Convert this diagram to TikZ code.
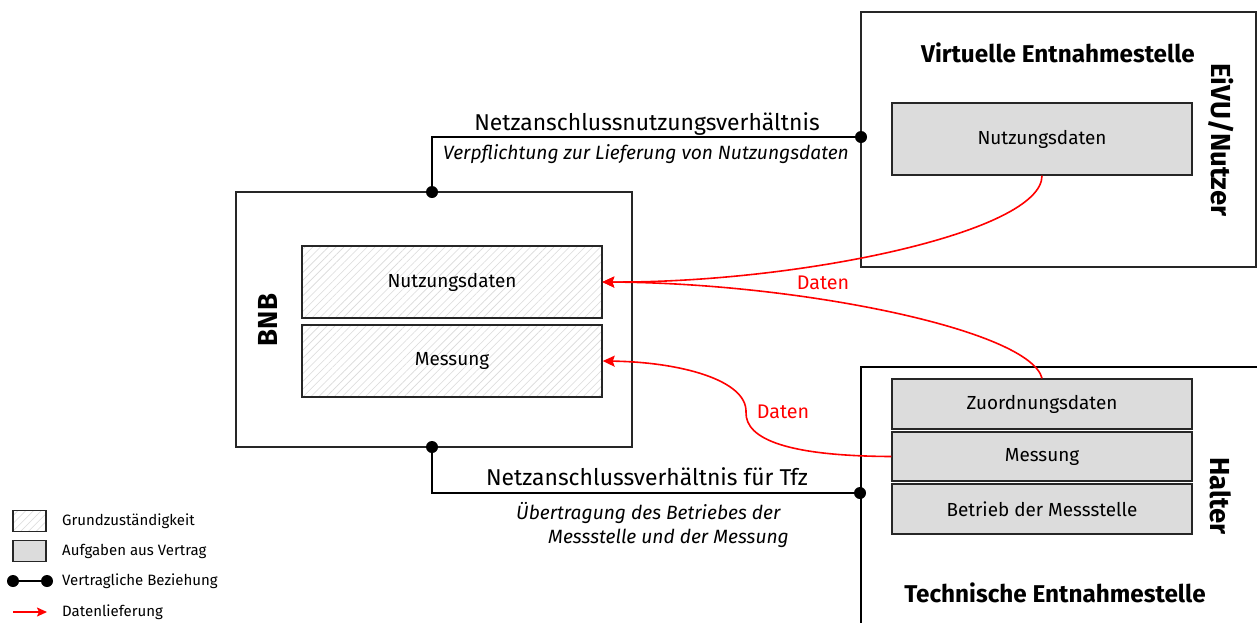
\documentclass[tikz,border=0pt]{standalone}
\usepackage{fontspec}
\setmainfont{Fira Sans}
\usetikzlibrary{arrows.meta,patterns.meta}
\definecolor{taskgray}{HTML}{DCDCDC}
\definecolor{hatchgray}{HTML}{DADADA}
\definecolor{framegray}{HTML}{262626}
\definecolor{datared}{HTML}{FF0000}
\begin{document}
\begin{tikzpicture}[x=1pt,y=-1pt,
  party/.style={draw=framegray, line width=1.3pt, fill=white, inner sep=0pt},
  hatchfill/.style={preaction={fill=white},
    pattern={Lines[angle=45,distance=5.5pt,line width=0.6pt]}, pattern color=hatchgray},
  hatchbox/.style={draw=framegray, line width=1.4pt, hatchfill,
    inner sep=0pt, font=\fontsize{18.9}{22}\selectfont},
  taskbox/.style={draw=framegray, line width=1.4pt, fill=taskgray, inner sep=0pt,
    font=\fontsize{18.9}{22}\selectfont},
  title/.style={font=\fontsize{24.3}{28}\bfseries\selectfont, inner sep=0pt},
  sidetitle/.style={font=\fontsize{27.5}{30}\bfseries\selectfont, inner sep=0pt},
  relname/.style={font=\fontsize{22.9}{26}\selectfont, inner sep=0pt},
  relnote/.style={font=\fontsize{19.2}{24}\itshape\selectfont, inner sep=0pt},
  contract/.style={draw=black, line width=1.4pt},
  contractdot/.style={fill=black},
  datalink/.style={draw=datared, line width=1.6pt, -{Stealth[length=12pt,width=11pt,inset=2pt]}},
  datalabel/.style={text=datared, font=\fontsize{19.7}{22}\selectfont, inner sep=0pt},
  legendtext/.style={font=\fontsize{15}{17}\selectfont, anchor=west, inner sep=0pt},
]
\useasboundingbox (0,0) rectangle (1257,622);
\clip (0,0) rectangle (1257,622);

% BNB
\node[party, minimum width=396pt, minimum height=255pt] (bnb) at (434,319.5) {};
\node[sidetitle, rotate=90] (bnblabel) at (268,320) {BNB};
\node[hatchbox, minimum width=300pt, minimum height=72pt] (bnbnutz) at (452,282) {Nutzungsdaten};
\node[hatchbox, minimum width=300pt, minimum height=72pt] (bnbmess) at (452,361) {Messung};

% Virtuelle Entnahmestelle
\node[party, minimum width=395pt, minimum height=255pt] (virt) at (1058.5,139.5) {};
\node[title] (virttitle) at (1058,53) {Virtuelle Entnahmestelle};
\node[sidetitle, rotate=-90] (eivu) at (1221,140) {EiVU/Nutzer};
\node[taskbox, minimum width=300pt, minimum height=72pt] (vnutz) at (1042,139) {Nutzungsdaten};

% Technische Entnahmestelle
\node[party, draw=black, line width=2pt, minimum width=420pt, minimum height=320pt, anchor=north west] (tech) at (860,366) {};
\node[taskbox, minimum width=300pt, minimum height=50pt] (zuord) at (1042,404) {Zuordnungsdaten};
\node[taskbox, minimum width=300pt, minimum height=49pt] (tmess) at (1042,456.5) {Messung};
\node[taskbox, minimum width=300pt, minimum height=50pt] (betrieb) at (1042,509) {Betrieb der Messstelle};
\node[sidetitle, rotate=-90] (halter) at (1221,496) {Halter};
\node[title] (techtitle) at (1055,593) {Technische Entnahmestelle};

% contractual relations
\coordinate (bnbtop) at (432,192);
\coordinate (virtport) at (861,137);
\coordinate (bnbbot) at (432,447);
\coordinate (techport) at (860,493);
\draw[contract] (bnbtop) |- (virtport);
\draw[contract] (bnbbot) |- (techport);
\foreach \p in {bnbtop,virtport,bnbbot,techport} \fill[contractdot] (\p) circle (6pt);

\node[relname] (nnv) at (647,124) {Netzanschlussnutzungsverhältnis};
\node[relnote] (nnvnote) at (646,154) {Verpflichtung zur Lieferung von Nutzungsdaten};
\node[relname] (nav) at (647,477) {Netzanschlussverhältnis für Tfz};
\node[relnote, anchor=north west, align=left] (navnote) at (516,502)
  {Übertragung des Betriebes der\\\hspace*{32pt}Messstelle und der Messung};

% data deliveries
\draw[datalink] (vnutz.south) .. controls (1042,232) and (800,283) .. (bnbnutz.east);
\draw[datalink] (zuord.north) .. controls (1030,330) and (800,283) .. (bnbnutz.east);
\draw[datalink] (tmess.west) .. controls (790,456) and (745,440) .. (746,412)
  .. controls (747,380) and (680,362) .. (bnbmess.east);
\node[datalabel] (daten1) at (823,283) {Daten};
\node[datalabel] (daten2) at (783,412) {Daten};

% legend
\node[draw=framegray, line width=1.2pt, hatchfill,
  minimum width=33pt, minimum height=21pt, inner sep=0pt] (lghatch) at (29.5,521) {};
\node[legendtext] (lgt1) at (62,521) {Grundzuständigkeit};
\node[draw=framegray, line width=1.2pt, fill=taskgray, minimum width=33pt, minimum height=21pt, inner sep=0pt] (lggray) at (29.5,551) {};
\node[legendtext] (lgt2) at (62,551) {Aufgaben aus Vertrag};
\coordinate (lga) at (13,581);
\coordinate (lgb) at (47,581);
\draw[line width=1.3pt] (lga) -- (lgb);
\fill (lga) circle (6pt);
\fill (lgb) circle (6pt);
\node[legendtext] (lgt3) at (62,581) {Vertragliche Beziehung};
\coordinate (lgc) at (13,612);
\coordinate (lgd) at (47,612);
\draw[datalink, -{Stealth[length=10pt,width=9pt,inset=2pt]}] (lgc) -- (lgd);
\node[legendtext] (lgt4) at (62,612) {Datenlieferung};
\end{tikzpicture}
\end{document}
